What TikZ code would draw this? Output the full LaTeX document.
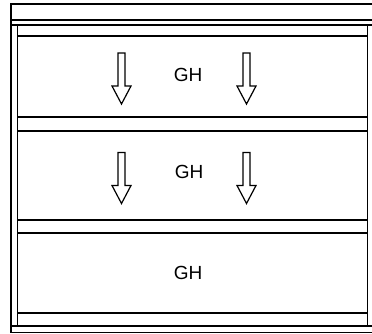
\documentclass[tikz,border=0pt]{standalone}
\usepackage{fontspec}
\setmainfont{Liberation Sans}

\tikzset{
  rail/.style={line width=1.4pt},
  heavyrail/.style={line width=2.4pt},
  label/.style={font=\fontsize{19}{19}\selectfont, inner sep=0pt},
  downarrow/.pic={
    \draw[line width=1.2pt, line join=miter]
      (-3.5,0) -- (-3.5,33) -- (-9.5,33) -- (0,51) -- (9.5,33) -- (3.5,33) -- (3.5,0) -- cycle;
  }
}

\begin{document}
\begin{tikzpicture}[x=1pt,y=-1pt]

\useasboundingbox (0,0) rectangle (372,334);

% frame
\draw[rail] (372,4) -- (11,4) -- (11,332.5);
\draw[rail] (11,20) -- (372,20);
\draw[rail] (11,25) -- (372,25);
\draw[rail] (17.7,25) -- (17.7,326);
\draw[rail] (367.7,25) -- (367.7,326);
\draw[heavyrail] (11,326) -- (372,326);
\draw[rail] (11,332.5) -- (372,332.5);

% drawers
\foreach \y in {36,117,131,220,233,313}
  \draw[rail] (17.7,\y) -- (367.7,\y);

\coordinate (drawer-one) at (188,75);
\coordinate (drawer-two) at (189,171.5);
\coordinate (drawer-three) at (188,273);

\node[label] at (drawer-one) {GH};
\node[label] at (drawer-two) {GH};
\node[label] at (drawer-three) {GH};

\pic at (121.5,53) {downarrow};
\pic at (246.5,53) {downarrow};
\pic at (121.5,152.5) {downarrow};
\pic at (246.5,152.5) {downarrow};

\end{tikzpicture}
\end{document}
